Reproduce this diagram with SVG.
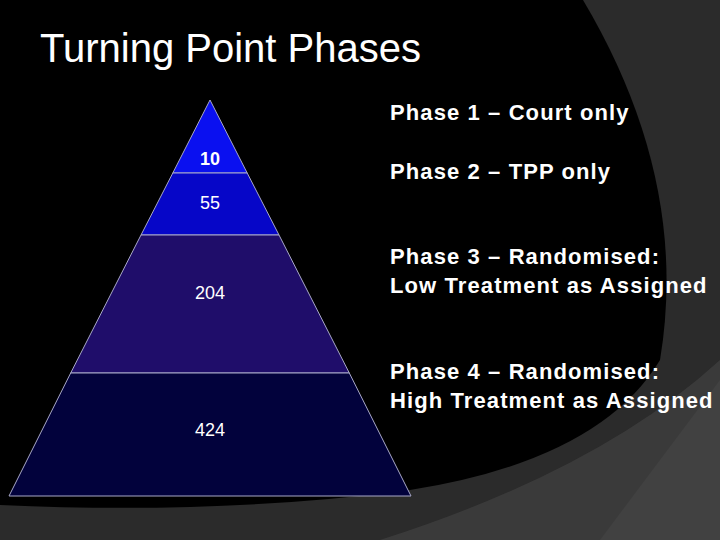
<svg xmlns="http://www.w3.org/2000/svg" width="720" height="540" viewBox="0 0 720 540">
<style>
text{fill:#fff;font-family:"Liberation Sans",Arial,sans-serif}
.n{font-size:18px;text-anchor:middle}
.l{font-size:22px;font-weight:bold;letter-spacing:1.1px}
.e{stroke:#a8a8c8;stroke-width:1}
</style>
<rect width="720" height="540" fill="#2b2b2b"/>
<path d="M600 540 Q690 420 720 380 L720 540 Z" fill="#4a4a4a"/>
<path d="M380 540 Q600 470 720 360 L720 540 Z" fill="#3f3f3f" opacity="0.8"/>
<path d="M0 0 L583 0 Q690 180 660 360 Q600 460 410 490 Q220 515 0 505 Z" fill="#000"/>
<text x="40" y="62" font-size="40">Turning Point Phases</text>
<g id="pyramid">
<g id="layer1"><polygon points="210,100 172.8,173 247.2,173" fill="#0a10f0" class="e"/><text class="n" x="210" y="165" font-weight="bold">10</text></g>
<g id="layer2"><polygon points="172.8,173 247.2,173 279,235 141,235" fill="#0606c8" class="e"/><text class="n" x="210" y="209">55</text></g>
<g id="layer3"><polygon points="141,235 279,235 349.3,373 70.7,373" fill="#1f0d6a" class="e"/><text class="n" x="210" y="299">204</text></g>
<g id="layer4"><polygon points="70.7,373 349.3,373 411,496 9,496" fill="#02023c" class="e"/><text class="n" x="210" y="436">424</text></g>
</g>
<g id="labels">
<text class="l" x="390" y="120">Phase 1 – Court only</text>
<text class="l" x="390" y="179">Phase 2 – TPP only</text>
<text class="l" x="390" y="264">Phase 3 – Randomised:</text>
<text class="l" x="390" y="293">Low Treatment as Assigned</text>
<text class="l" x="390" y="379">Phase 4 – Randomised:</text>
<text class="l" x="390" y="408">High Treatment as Assigned</text>
</g>
<g id="connectors"/>
</svg>
